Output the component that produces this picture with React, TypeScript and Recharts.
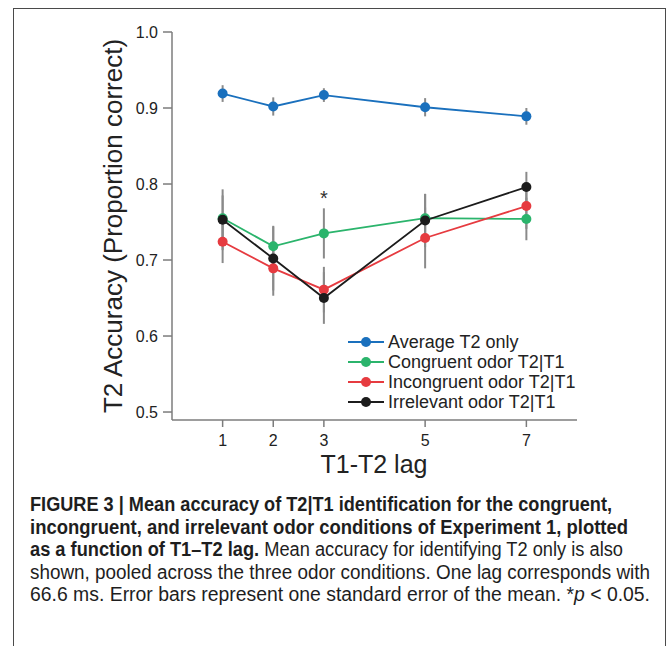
import { CartesianGrid, ErrorBar, Legend, Line, LineChart, ReferenceDot, XAxis, YAxis } from "recharts";

const lags = [1, 2, 3, 5, 7];
const xTicks = [1, 2, 3, 5, 7];
const yTicks = [0.5, 0.6, 0.7, 0.8, 0.9, 1.0];

const averageT2 = [0.919, 0.902, 0.917, 0.901, 0.889];
const averageT2Err = [0.011, 0.012, 0.009, 0.012, 0.011];
const congruent = [0.755, 0.718, 0.735, 0.755, 0.754];
const congruentErr = [0.03, 0.027, 0.033, 0.032, 0.028];
const incongruent = [0.724, 0.689, 0.661, 0.729, 0.771];
const incongruentErr = [0.028, 0.036, 0.03, 0.04, 0.03];
const irrelevant = [0.753, 0.702, 0.65, 0.752, 0.796];
const irrelevantErr = [0.04, 0.042, 0.034, 0.035, 0.02];

const series = [
  { key: "average", name: "Average T2 only", color: "#1a70bd" },
  { key: "congruent", name: "Congruent odor T2|T1", color: "#2bb46c" },
  { key: "incongruent", name: "Incongruent odor T2|T1", color: "#e63b40" },
  { key: "irrelevant", name: "Irrelevant odor T2|T1", color: "#1c1c1c" },
];
const seriesNames = series.map((s) => s.name);

const data = lags.map((lag, i) => ({
  lag,
  average: averageT2[i],
  averageErr: averageT2Err[i],
  congruent: congruent[i],
  congruentErr: congruentErr[i],
  incongruent: incongruent[i],
  incongruentErr: incongruentErr[i],
  irrelevant: irrelevant[i],
  irrelevantErr: irrelevantErr[i],
}));

const font = '"Liberation Sans", Arial, Helvetica, sans-serif';
const axisGray = "#7c7c7c";

function LegendBox(props: any) {
  const items = (props.payload || []).filter((item: any) => seriesNames.includes(item.value));
  return (
    <div style={{ fontFamily: font, fontSize: 18, color: "#222" }}>
      {items.map((item: any) => (
        <div key={item.value} style={{ display: "flex", alignItems: "center", height: 20 }}>
          <svg width={36} height={20} style={{ marginRight: 4 }}>
            <line x1={0} y1={10} x2={36} y2={10} stroke={item.color} strokeWidth={1.8} />
            <circle cx={18} cy={10} r={5} fill={item.color} />
          </svg>
          <span style={{ whiteSpace: "nowrap" }}>{item.value}</span>
        </div>
      ))}
    </div>
  );
}

const captionLines = [
  { y: 511, width: 582, parts: [{ t: "FIGURE 3 | Mean accuracy of T2|T1 identification for the congruent,", b: true }] },
  { y: 533.5, width: 598, parts: [{ t: "incongruent, and irrelevant odor conditions of Experiment 1, plotted", b: true }] },
  {
    y: 556,
    width: 593,
    parts: [
      { t: "as a function of T1–T2 lag.", b: true },
      { t: " Mean accuracy for identifying T2 only is also", b: false },
    ],
  },
  { y: 578.5, width: 620, parts: [{ t: "shown, pooled across the three odor conditions. One lag corresponds with", b: false }] },
  {
    y: 601,
    width: 620,
    parts: [
      { t: "66.6 ms. Error bars represent one standard error of the mean. *", b: false },
      { t: "p", b: false, i: true },
      { t: " < 0.05.", b: false },
    ],
  },
];

export default function App() {
  return (
    <div style={{ position: "absolute", left: 0, top: 0, width: 668, height: 646, background: "#fff", overflow: "hidden" }}>
      <div
        style={{
          position: "absolute",
          left: 13,
          top: 8,
          width: 653,
          height: 700,
          border: "1.5px solid #4a4a4a",
          boxSizing: "border-box",
        }}
      />
      <div style={{ position: "absolute", left: 0, top: 0 }}>
        <LineChart width={668} height={490} data={data} margin={{ top: 32, right: 91, left: 112, bottom: 10 }}>
          <CartesianGrid stroke="none" />
          <XAxis
            dataKey="lag"
            type="number"
            domain={[0, 8]}
            ticks={xTicks}
            height={60}
            stroke={axisGray}
            strokeWidth={1.5}
            tickSize={7}
            tickMargin={8}
            tick={{ fill: "#222", fontSize: 16, fontFamily: font }}
            label={{
              content: () => (
                <text x={374} y={473} textAnchor="middle" fill="#222" fontSize={25} fontFamily={font}>
                  T1-T2 lag
                </text>
              ),
            }}
          />
          <YAxis
            type="number"
            domain={[0.4895, 1.0]}
            ticks={yTicks}
            allowDataOverflow
            width={60}
            stroke={axisGray}
            strokeWidth={1.5}
            tickSize={9}
            tickMargin={5}
            tickFormatter={(v: number) => v.toFixed(1)}
            tick={{ fill: "#222", fontSize: 16, fontFamily: font }}
            label={{
              content: () => (
                <text
                  x={122}
                  y={226}
                  transform="rotate(-90 122 226)"
                  textAnchor="middle"
                  fill="#222"
                  fontSize={26}
                  fontFamily={font}
                >
                  T2 Accuracy (Proportion correct)
                </text>
              ),
            }}
          />
          {series.map((s) => (
            <Line
              key={s.key + "-err"}
              dataKey={s.key}
              stroke="none"
              dot={false}
              activeDot={false}
              legendType="none"
              isAnimationActive={false}
            >
              <ErrorBar dataKey={s.key + "Err"} width={0} stroke="#8a8a8a" strokeWidth={2} isAnimationActive={false} />
            </Line>
          ))}
          {series.map((s) => (
            <Line
              key={s.key}
              dataKey={s.key}
              name={s.name}
              stroke={s.color}
              strokeWidth={1.8}
              dot={{ r: 5, fill: s.color, stroke: "none" }}
              activeDot={false}
              isAnimationActive={false}
            />
          ))}
          <ReferenceDot
            x={3}
            y={0.788}
            r={1}
            fill="none"
            stroke="none"
            label={{ value: "*", position: "center", fill: "#333", fontSize: 20, fontFamily: font, dy: 5 }}
          />
          <Legend
            layout="vertical"
            align="center"
            verticalAlign="middle"
            content={<LegendBox />}
            wrapperStyle={{ left: 348, top: 332, width: 280 }}
          />
        </LineChart>
      </div>
      <svg style={{ position: "absolute", left: 0, top: 0 }} width={668} height={646}>
        {captionLines.map((line, idx) => (
          <text
            key={idx}
            x={30}
            y={line.y}
            textLength={line.width}
            lengthAdjust="spacingAndGlyphs"
            fontFamily={font}
            fontSize={19.5}
            fill="#1e1e1e"
          >
            {line.parts.map((p: any, j) => (
              <tspan key={j} fontWeight={p.b ? "bold" : "normal"} fontStyle={p.i ? "italic" : "normal"}>
                {p.t}
              </tspan>
            ))}
          </text>
        ))}
      </svg>
    </div>
  );
}
